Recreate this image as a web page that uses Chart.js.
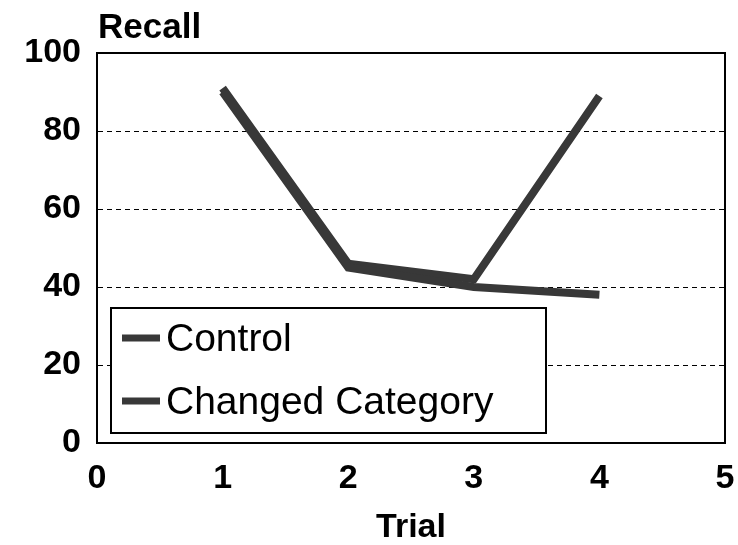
<!DOCTYPE html>
<html>
<head>
<meta charset="utf-8">
<script src="https://cdn.jsdelivr.net/npm/chart.js@4"></script>
<style>
  html, body { margin: 0; padding: 0; background: #fff; }
  #wrap { width: 738px; height: 545px; }
</style>
</head>
<body>
<div id="wrap"><canvas id="chart" width="738" height="545"></canvas></div>
<script>
// data
const trials = [1, 2, 3, 4];
const controlRecall = [90, 45, 40, 38];
const changedRecall = [91, 46, 42, 89];
const seriesNames = ['Control', 'Changed Category'];
const xTicks = [0, 1, 2, 3, 4, 5];
const yTicks = [0, 20, 40, 60, 80, 100];

const lineColor = '#383838';
const fontFamily = '"Liberation Sans", Arial, sans-serif';

function toPoints(values) {
    return trials.map((t, i) => ({ x: t, y: values[i] }));
}

// solid box round the plot area
const framePlugin = {
    id: 'frame',
    beforeDatasetsDraw(chart) {
        const { ctx, chartArea: a } = chart;
        ctx.save();
        ctx.strokeStyle = '#000';
        ctx.lineWidth = 2;
        ctx.strokeRect(a.left, a.top, a.right - a.left, a.bottom - a.top);
        ctx.restore();
    }
};

// legend box sitting inside the plot
const boxLegend = {
    id: 'boxLegend',
    afterDatasetsDraw(chart) {
        const ctx = chart.ctx;
        const box = { x: 111, y: 308, w: 435, h: 125 };
        ctx.save();
        ctx.fillStyle = '#fff';
        ctx.fillRect(box.x, box.y, box.w, box.h);
        ctx.strokeStyle = '#000';
        ctx.lineWidth = 2;
        ctx.strokeRect(box.x, box.y, box.w, box.h);
        ctx.font = '39px ' + fontFamily;
        ctx.textBaseline = 'middle';
        const rows = [338, 401];
        chart.data.datasets.forEach((ds, i) => {
            const y = rows[i];
            ctx.strokeStyle = ds.borderColor;
            ctx.lineWidth = 7;
            ctx.beginPath();
            ctx.moveTo(122, y);
            ctx.lineTo(160, y);
            ctx.stroke();
            ctx.fillStyle = '#000';
            ctx.fillText(ds.label, 166, y + 2);
        });
        ctx.restore();
    }
};

// "Recall" written above the y axis
const yTitle = {
    id: 'yTitle',
    afterDraw(chart) {
        const ctx = chart.ctx;
        ctx.save();
        ctx.font = 'bold 35px ' + fontFamily;
        ctx.fillStyle = '#000';
        ctx.textBaseline = 'alphabetic';
        ctx.fillText('Recall', 98, 38);
        ctx.restore();
    }
};

const ctx = document.getElementById('chart').getContext('2d');
const chart = new Chart(ctx, {
    type: 'line',
    data: {
        datasets: [
            { label: seriesNames[0], data: toPoints(controlRecall) },
            { label: seriesNames[1], data: toPoints(changedRecall) }
        ].map(ds => Object.assign(ds, {
            borderColor: lineColor,
            borderWidth: 8,
            pointRadius: 0,
            tension: 0,
            fill: false
        }))
    },
    options: {
        responsive: false,
        animation: false,
        layout: { padding: { top: 53, right: 13, left: 0, bottom: 0 } },
        plugins: {
            legend: { display: false },
            tooltip: { enabled: false }
        },
        scales: {
            x: {
                type: 'linear',
                min: xTicks[0],
                max: xTicks[xTicks.length - 1],
                afterBuildTicks: s => { s.ticks = xTicks.map(v => ({ value: v })); },
                afterFit: s => {
                    s.height = 102;
                    s.paddingLeft = 0;
                    s.paddingRight = 13;
                },
                grid: { display: false, drawTicks: false },
                border: { display: true, color: '#000', width: 2 },
                ticks: {
                    color: '#000',
                    padding: 15,
                    maxRotation: 0,
                    font: { family: fontFamily, size: 34, weight: 'bold', lineHeight: 1.2 }
                },
                title: {
                    display: true,
                    text: 'Trial',
                    color: '#000',
                    padding: { top: 0, bottom: -3 },
                    font: { family: fontFamily, size: 34, weight: 'bold', lineHeight: 1.2 }
                }
            },
            y: {
                min: yTicks[0],
                max: yTicks[yTicks.length - 1],
                afterBuildTicks: s => { s.ticks = yTicks.map(v => ({ value: v })); },
                afterFit: s => { s.width = 97; },
                grid: {
                    drawTicks: false,
                    color: c => (c.tick && (c.tick.value === 0 || c.tick.value === 100)) ? 'rgba(0,0,0,0)' : '#000',
                    lineWidth: 1
                },
                border: { display: true, color: '#000', width: 2, dash: [5, 4] },
                ticks: {
                    color: '#000',
                    padding: 16,
                    font: { family: fontFamily, size: 34, weight: 'bold', lineHeight: 1.2 }
                }
            }
        }
    },
    plugins: [framePlugin, boxLegend, yTitle]
});
</script>
</body>
</html>
